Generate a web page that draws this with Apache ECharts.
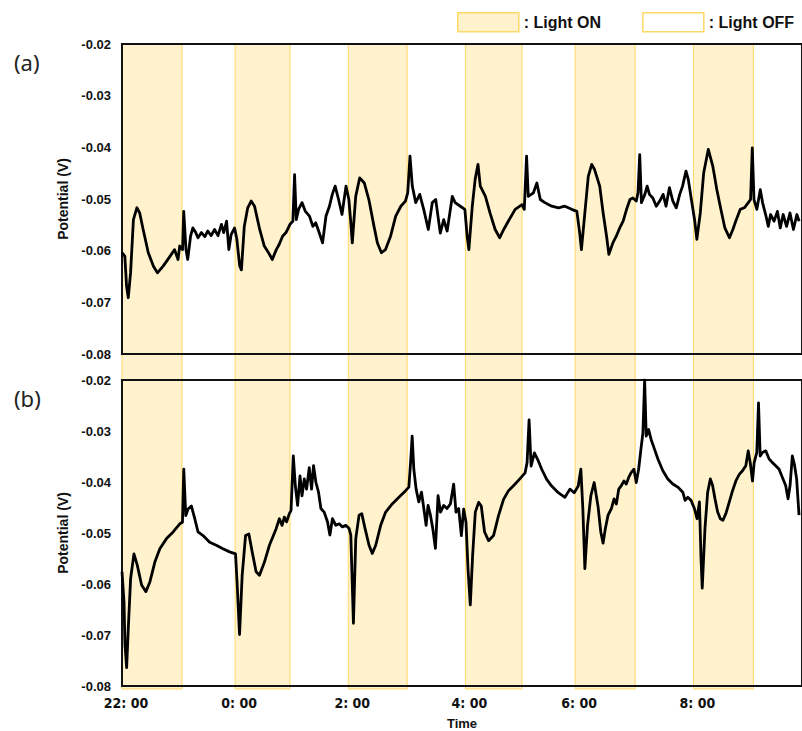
<!DOCTYPE html>
<html>
<head>
<meta charset="utf-8">
<script src="https://cdn.jsdelivr.net/npm/echarts@6/dist/echarts.min.js"></script>
<style>
  html, body { margin: 0; padding: 0; background: #fff; }
  #chart { width: 802px; height: 731px; }
</style>
</head>
<body>
<div id="chart"></div>
<script>
// time in hours after 22:00, potential in mV
const hoursA = [0, 0.05, 0.08, 0.11, 0.15, 0.20, 0.26, 0.31, 0.37, 0.46, 0.55, 0.62, 0.72, 0.84, 0.92, 0.98,
  1.01, 1.06, 1.08, 1.12, 1.15, 1.20, 1.24, 1.29, 1.33, 1.39, 1.45, 1.50, 1.56, 1.62, 1.68, 1.74, 1.78, 1.83, 1.87, 1.91,
  1.97, 2.01, 2.06, 2.09, 2.14, 2.20, 2.26, 2.32, 2.41, 2.49, 2.58, 2.63, 2.70, 2.75, 2.81, 2.87, 2.94, 2.99, 3.02, 3.05,
  3.09, 3.15, 3.21, 3.28, 3.34, 3.39, 3.45, 3.51, 3.57, 3.63, 3.68, 3.73, 3.79, 3.85, 3.92, 3.97, 4.00, 4.03,
  4.09, 4.16, 4.24, 4.32, 4.41, 4.47, 4.54, 4.61, 4.70, 4.79, 4.88, 4.96, 5.00, 5.04, 5.08, 5.14, 5.21, 5.28, 5.36, 5.43,
  5.49, 5.57, 5.63, 5.69,
  5.78, 5.83, 5.92, 6.00, 6.04, 6.07, 6.13, 6.18, 6.23, 6.27, 6.36, 6.44, 6.53, 6.61, 6.68, 6.76, 6.88, 7.00, 7.04, 7.08,
  7.11, 7.20, 7.26, 7.32, 7.40, 7.52, 7.64, 7.75, 7.87, 7.96, 8.01, 8.04, 8.10, 8.16, 8.22, 8.27, 8.36, 8.42, 8.48, 8.52,
  8.59, 8.65, 8.71, 8.77, 8.83, 8.89, 8.94, 9.00, 9.03, 9.06, 9.09, 9.15, 9.19, 9.23, 9.29, 9.35, 9.41, 9.47, 9.52, 9.58,
  9.64, 9.70, 9.76, 9.81, 9.87, 9.91, 9.96, 10.02, 10.06, 10.12, 10.18, 10.26, 10.34, 10.41, 10.48, 10.55, 10.63, 10.69, 10.74, 10.82,
  10.89, 10.96, 11.00, 11.03, 11.06, 11.11, 11.17, 11.21, 11.27, 11.31, 11.35, 11.41, 11.47, 11.52, 11.57, 11.63, 11.69, 11.75, 11.81, 11.85]
const mVA = [-60.4, -61.1, -66.9, -69.1, -64.3, -54.0, -51.7, -52.7, -55.9, -60.4, -63.0, -64.3, -63.0, -61.1, -59.8, -61.7,
  -59.1, -59.8, -52.4, -59.8, -61.7, -57.2, -55.6, -56.5, -57.5, -56.5, -57.3, -56.2, -57.1, -55.9, -57.1, -54.9, -56.5, -54.3, -59.8, -56.9,
  -55.6, -57.8, -63.0, -63.7, -55.3, -51.7, -50.4, -51.4, -55.9, -59.1, -60.7, -61.7, -59.8, -58.8, -57.2, -56.5, -54.9, -54.3, -45.3, -54.0,
  -52.0, -50.7, -52.4, -53.3, -55.3, -54.6, -56.5, -58.5, -53.3, -51.4, -49.1, -47.5, -50.1, -53.0, -47.5, -50.1, -54.0, -58.5,
  -49.5, -45.9, -46.9, -50.1, -55.3, -58.5, -60.4, -59.8, -57.2, -53.3, -51.4, -50.4, -48.8, -41.7, -47.5, -50.7, -49.1, -52.0, -55.9, -50.7,
  -50.1, -56.6, -54.0, -56.2,
  -49.5, -50.7, -51.4, -52.0, -57.2, -59.8, -51.4, -46.2, -43.3, -47.5, -49.5, -52.7, -55.9, -57.5, -55.9, -54.3, -52.0, -51.1, -52.0, -41.7,
  -49.5, -48.8, -46.9, -50.1, -50.7, -51.4, -51.7, -51.4, -52.0, -52.4, -56.6, -59.8, -52.7, -45.6, -43.3, -44.3, -47.5, -52.7, -57.2, -60.7,
  -58.5, -57.2, -55.6, -54.3, -52.0, -50.1, -49.8, -50.4, -48.8, -41.4, -50.7, -49.1, -47.5, -49.1, -49.8, -51.4, -50.4, -49.1, -51.4, -47.8,
  -50.4, -51.7, -49.1, -47.5, -44.6, -46.2, -49.8, -54.0, -57.8, -52.7, -44.9, -40.4, -43.7, -48.2, -52.0, -55.6, -57.5, -55.9, -54.3, -52.0,
  -51.7, -50.7, -50.1, -40.1, -50.1, -52.0, -48.2, -50.7, -53.3, -55.3, -53.0, -54.3, -52.4, -55.6, -53.0, -55.3, -52.7, -55.9, -53.0, -54.3]

const hoursB = [0, 0.035, 0.052, 0.081, 0.110, 0.151, 0.209, 0.267, 0.343, 0.418, 0.488, 0.575, 0.662, 0.779, 0.895, 1.011, 1.058, 1.081, 1.116, 1.156,
  1.214, 1.273, 1.331, 1.418, 1.534, 1.650, 1.766, 1.883, 1.987, 2.016, 2.057, 2.103, 2.162, 2.220, 2.278, 2.347, 2.406, 2.493, 2.580, 2.696,
  2.754, 2.801, 2.841, 2.881, 2.928, 2.958, 2.998, 3.033, 3.073, 3.115, 3.150, 3.190, 3.230, 3.277, 3.317, 3.352, 3.394, 3.439, 3.481, 3.538,
  3.596, 3.638, 3.683, 3.742, 3.800, 3.857, 3.917, 3.974, 4.004, 4.050, 4.091, 4.149, 4.196, 4.253, 4.323, 4.380, 4.440, 4.527, 4.614, 4.729,
  4.846, 4.963, 5.020, 5.050, 5.078, 5.107, 5.147, 5.194, 5.241, 5.282, 5.322, 5.356, 5.398, 5.438, 5.485, 5.531, 5.573, 5.630, 5.688, 5.747,
  5.804, 5.845, 5.892,
  5.939, 5.979, 6.020, 6.055, 6.095, 6.136, 6.183, 6.241, 6.287, 6.345, 6.415, 6.502, 6.589, 6.677, 6.764, 6.880, 6.985, 7.054, 7.089, 7.124,
  7.159, 7.217, 7.275, 7.345, 7.432, 7.519, 7.635, 7.751, 7.839, 7.914, 7.984, 8.030, 8.065, 8.100, 8.147, 8.205, 8.263,
  8.332, 8.379, 8.419, 8.459, 8.506, 8.564, 8.611, 8.651, 8.693, 8.738, 8.785, 8.825, 8.867, 8.912, 8.959, 9.000, 9.041, 9.087, 9.116, 9.146,
  9.174, 9.216, 9.261, 9.320, 9.378, 9.465, 9.552, 9.639, 9.726, 9.814, 9.854, 9.901, 9.958, 10.017, 10.063, 10.105, 10.133, 10.154, 10.202, 10.249,
  10.296, 10.336, 10.377, 10.424, 10.471, 10.516, 10.568, 10.628, 10.685, 10.743, 10.802, 10.859, 10.917, 10.959, 10.994, 11.034, 11.063, 11.109, 11.139, 11.168,
  11.208, 11.266, 11.325, 11.382, 11.440, 11.499, 11.557, 11.614, 11.656, 11.691, 11.731, 11.771, 11.806, 11.848]
const mVB = [-57.6, -63.5, -71.9, -76.4, -68.7, -58.9, -54.1, -56.3, -60.2, -61.5, -59.6, -55.7, -53.1, -51.1, -49.8, -48.2, -47.9, -37.5, -46.6, -45.3,
  -44.7, -47.2, -49.8, -50.5, -51.8, -52.4, -53.1, -53.7, -54.1, -60.2, -69.9, -58.3, -50.5, -50.2, -53.7, -57.6, -58.3, -55.7, -52.4, -49.2,
  -47.2, -48.5, -46.9, -47.8, -46.2, -45.6, -34.9, -40.7, -44.6, -38.8, -42.7, -39.4, -41.4, -37.2, -41.4, -36.8, -40.1, -42.0, -45.2, -45.9,
  -47.8, -50.4, -47.2, -48.5, -48.2, -48.8, -48.5, -49.1, -50.4, -67.7, -51.1, -46.5, -46.2, -49.1, -52.4, -54.0, -52.4, -48.5, -45.9, -44.3,
  -43.0, -41.7, -41.0, -36.2, -31.0, -37.5, -41.4, -43.9, -42.0, -45.2, -48.5, -44.6, -46.5, -49.1, -53.0, -42.7, -45.9, -44.6, -45.2, -44.3,
  -40.4, -45.9, -45.2,
  -50.5, -45.3, -47.9, -57.0, -64.1, -54.4, -45.9, -44.0, -44.7, -49.8, -51.5, -50.5, -46.6, -43.4, -41.7, -40.4, -39.1, -38.2, -36.2, -27.8,
  -36.9, -34.3, -35.6, -37.5, -39.5, -40.8, -42.1, -43.0, -41.4, -42.1, -40.8, -37.5, -45.3, -57.0, -48.5, -42.7, -40.1,
  -44.9, -49.8, -52.0, -49.1, -46.5, -45.2, -43.3, -44.3, -41.4, -40.7, -39.8, -40.4, -39.1, -38.1, -37.5, -40.1, -37.5, -33.0, -30.4, -20.0,
  -31.0, -29.7, -31.7, -33.6, -35.5, -37.8, -39.4, -40.4, -41.0, -42.0, -43.6, -43.0, -43.6, -45.2, -47.2, -43.9, -55.0, -60.8, -49.1, -42.0,
  -39.4, -40.7, -43.3, -45.9, -47.2, -47.5, -46.2, -43.9, -41.7, -39.8, -38.5, -37.8, -36.8, -33.9, -36.2, -39.8, -36.2, -34.2, -24.5, -34.9,
  -34.2, -33.9, -35.5, -36.2, -36.8, -37.5, -39.1, -40.7, -43.3, -40.7, -34.9, -36.8, -39.4, -46.5]

// light periods (hours after 22:00)
const lightOnStart = [0, 1.98, 3.96, 6.01, 7.93, 10.0]
const lightOnEnd = [1.05, 2.94, 4.99, 7.0, 8.98, 11.05]
const tickHours = [0, 1.98, 3.96, 6.01, 7.93, 10.0]
const tickLabels = ['22: 00', '0: 00', '2: 00', '4: 00', '6: 00', '8: 00']
const xMax = 11.9

const toPoints = (hours, mv) => hours.map((h, i) => [h, mv[i] / 1000])

const chart = echarts.init(document.getElementById('chart'), null, { renderer: 'svg' })

const yAxisBase = {
  type: 'value',
  min: -0.08,
  max: -0.02,
  interval: 0.01,
  name: 'Potential (V)',
  nameLocation: 'middle',
  nameGap: 46,
  nameTextStyle: { color: '#111', fontSize: 14, fontWeight: 'bold', fontFamily: 'Liberation Sans' },
  axisLine: { show: false },
  axisTick: { show: false },
  splitLine: { show: false },
  axisLabel: {
    color: '#111',
    fontSize: 13,
    fontWeight: 'bold',
    fontFamily: 'Liberation Sans',
    margin: 11,
    formatter: (v) => v.toFixed(2)
  }
}

const xAxisBase = {
  type: 'value',
  min: 0,
  max: xMax,
  axisLine: { show: false },
  axisTick: { show: false },
  splitLine: { show: false },
  axisLabel: { show: false }
}

const lineSeries = (name, idx, data) => ({
  name,
  type: 'line',
  xAxisIndex: idx,
  yAxisIndex: idx,
  data,
  showSymbol: false,
  z: 5,
  lineStyle: { color: '#000', width: 2.8, join: 'round' },
  itemStyle: { color: '#000' }
})

chart.setOption({
  animation: false,
  title: [
    { text: '(a)', left: 9, top: 46, textStyle: { fontSize: 22, fontWeight: 'normal', color: '#222', fontFamily: 'Noto Sans' } },
    { text: '(b)', left: 9, top: 382, textStyle: { fontSize: 22, fontWeight: 'normal', color: '#222', fontFamily: 'Noto Sans' } }
  ],
  legend: {
    left: 457,
    top: 12,
    padding: 0,
    icon: 'rect',
    itemWidth: 61,
    itemHeight: 19,
    itemGap: 41,
    selectedMode: false,
    formatter: ': {name}',
    textStyle: { color: '#111', fontSize: 16, fontWeight: 'bold', fontFamily: 'Liberation Sans' },
    data: [
      { name: 'Light ON', itemStyle: { color: '#fff2cc', borderColor: '#ffd966', borderWidth: 1.5 } },
      { name: 'Light OFF', itemStyle: { color: '#ffffff', borderColor: '#ffd966', borderWidth: 1.5 } }
    ]
  },
  grid: [
    { left: 122, top: 44, width: 683, height: 310, show: true, z: 3, borderColor: '#111', borderWidth: 2, backgroundColor: 'transparent' },
    { left: 122, top: 380, width: 683, height: 309, show: true, z: 3, borderColor: '#111', borderWidth: 2, backgroundColor: 'transparent' },
    { left: 122, top: 44, width: 683, height: 645, show: false }
  ],
  xAxis: [
    Object.assign({}, xAxisBase, { gridIndex: 0 }),
    Object.assign({}, xAxisBase, {
      gridIndex: 1,
      name: 'Time',
      nameLocation: 'middle',
      nameGap: 31,
      nameTextStyle: { color: '#111', fontSize: 13, fontWeight: 'bold', fontFamily: 'Liberation Sans' },
      axisLabel: {
        show: true,
        customValues: tickHours,
        margin: 10,
        padding: [0, 0, 0, 8],
        color: '#111',
        fontSize: 14,
        fontWeight: 'bold',
        fontFamily: 'DejaVu Sans Condensed, Liberation Sans',
        formatter: (v) => tickLabels[tickHours.indexOf(v)]
      }
    }),
    Object.assign({}, xAxisBase, { gridIndex: 2 })
  ],
  yAxis: [
    Object.assign({}, yAxisBase, { gridIndex: 0 }),
    Object.assign({}, yAxisBase, { gridIndex: 1 }),
    { type: 'value', gridIndex: 2, min: 0, max: 1, show: false }
  ],
  series: [
    {
      name: 'bands',
      type: 'custom',
      xAxisIndex: 2,
      yAxisIndex: 2,
      silent: true,
      z: 1,
      data: lightOnStart.map((s, i) => [s, lightOnEnd[i]]),
      encode: { x: [0, 1] },
      renderItem: (params, api) => {
        const p0 = api.coord([api.value(0), 1])
        const p1 = api.coord([api.value(1), 0])
        return {
          type: 'rect',
          shape: { x: p0[0], y: p0[1], width: p1[0] - p0[0], height: p1[1] - p0[1] },
          style: { fill: '#fff2cc', stroke: '#ffd966', lineWidth: 1 }
        }
      }
    },
    { name: 'Light ON', type: 'line', data: [] },
    { name: 'Light OFF', type: 'line', data: [] },
    lineSeries('Potential (a)', 0, toPoints(hoursA, mVA)),
    lineSeries('Potential (b)', 1, toPoints(hoursB, mVB))
  ]
})
</script>
</body>
</html>
